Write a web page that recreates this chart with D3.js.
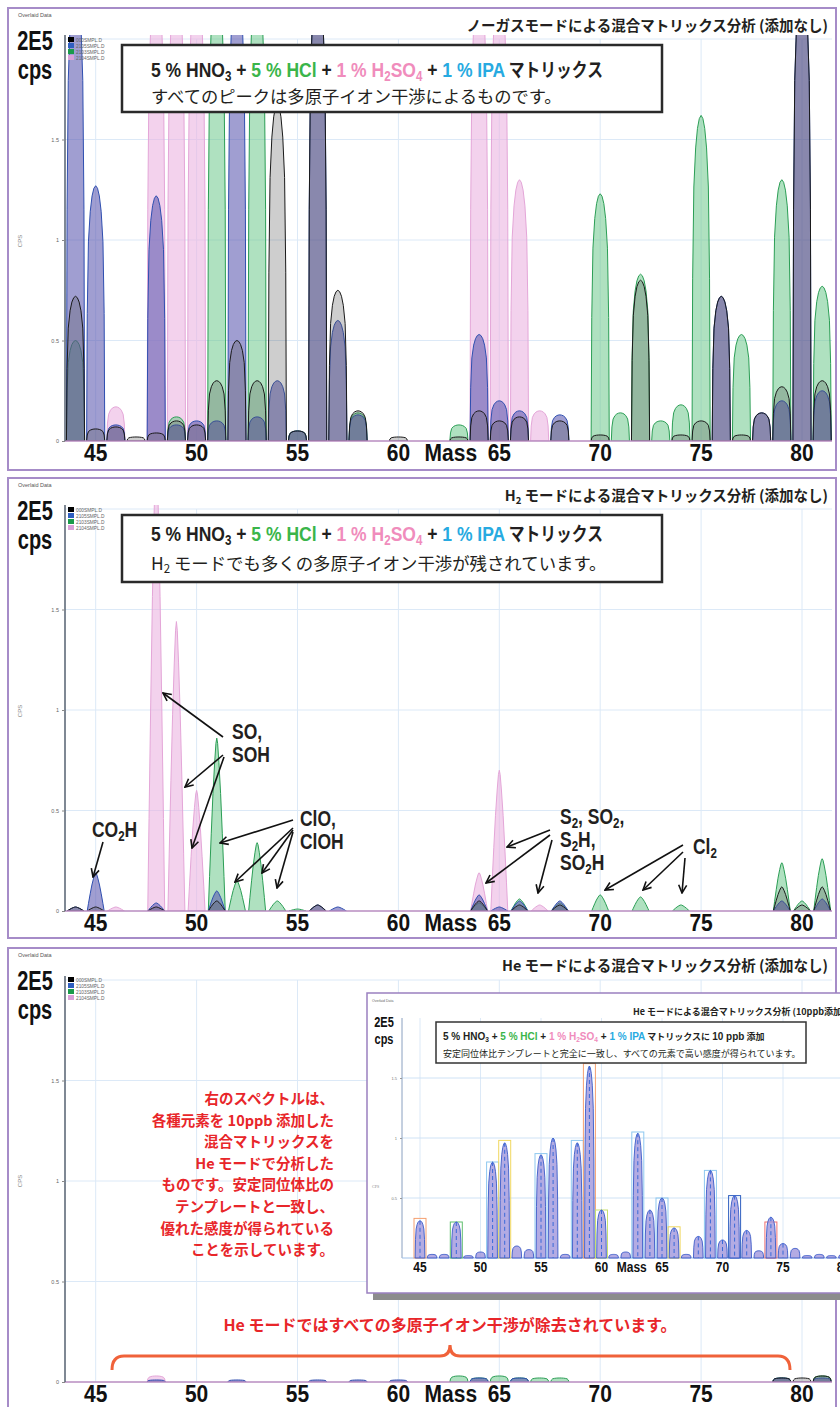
<!DOCTYPE html>
<html><head><meta charset="utf-8">
<script src="https://cdn.jsdelivr.net/npm/d3@7"></script>
<style>body{margin:0;background:#fff}svg{display:block}</style>
</head><body>
<svg id="c" width="840" height="1407"></svg>
<script>
// ---------------- DATA ----------------
const MASS_TICKS = [45, 50, 55, 60, 65, 70, 75, 80];
const Y_TICKS = [0, 0.5, 1, 1.5];
const LEGEND = ["000SMPL.D", "2105SMPL.D", "2103SMPL.D", "2104SMPL.D"];

// Panel 1: no-gas mode  [mass, intensity (x1E5 cps)]
const p1Black = [[44,0.72],[45,0.06],[46,0.07],[47,0.02],[48,0.04],[49,0.1],[50,0.08],[51,0.3],[52,0.5],[53,0.3],[54,1.68],[55,0.05],[56,2.3],[57,0.75],[58,0.15],[60,0.02],[63,0.02],[64,0.15],[65,0.1],[66,0.12],[68,0.1],[70,0.03],[72,0.8],[74,0.03],[75,0.1],[76,0.72],[77,0.03],[78,0.14],[79,0.27],[80,2.3],[81,0.3]];
const p1Blue  = [[44,2.3],[45,1.27],[46,0.08],[48,1.22],[49,0.08],[50,0.1],[51,0.1],[52,2.3],[53,0.12],[54,0.3],[55,0.05],[56,2.3],[57,0.6],[58,0.13],[64,0.53],[65,0.2],[66,0.15],[68,0.13],[76,0.72],[78,0.14],[79,0.2],[80,2.3],[81,0.25]];
const p1Green = [[44,0.5],[49,0.12],[51,2.3],[53,2.3],[55,0.05],[58,0.14],[63,0.08],[70,1.23],[71,0.14],[72,0.83],[73,0.1],[74,0.18],[75,1.62],[77,0.53],[79,1.3],[81,0.77]];
const p1Pink  = [[46,0.17],[48,2.3],[49,2.3],[50,2.3],[64,2.3],[65,2.3],[66,1.3],[67,0.15]];

// Panel 2: H2 mode
const p2Black = [[44,0.02],[45,0.02],[48,0.02],[51,0.05],[56,0.03],[64,0.05],[66,0.03],[68,0.03],[79,0.12],[80,0.03],[81,0.12]];
const p2Blue  = [[44,0.02],[45,0.19],[48,0.04],[51,0.1],[56,0.03],[57,0.02],[64,0.08],[65,0.02],[66,0.05],[68,0.05],[79,0.05],[81,0.06]];
const p2Green = [[51,0.86],[52,0.15],[53,0.34],[54,0.05],[55,0.01],[64,0.04],[66,0.06],[68,0.04],[70,0.08],[72,0.07],[74,0.03],[79,0.24],[80,0.05],[81,0.26]];
const p2Pink  = [[46,0.02],[48,2.3],[49,1.44],[50,0.6],[64,0.19],[65,0.7],[66,0.02],[67,0.03]];

// Panel 3: He mode (no spike)
const p3Black = [[79,0.02],[80,0.02],[81,0.03]];
const p3Blue  = [[48,0.01],[52,0.01],[56,0.01],[58,0.01],[60,0.01],[64,0.02],[66,0.02],[79,0.02],[81,0.02]];
const p3Green = [[63,0.03],[64,0.02],[65,0.03],[66,0.02],[67,0.02],[68,0.02],[79,0.02],[81,0.03]];
const p3Pink  = [[48,0.03],[64,0.01]];

// Inset: He mode, 10 ppb spike
const heSpike = [[45,0.31],[46,0.03],[47,0.03],[48,0.3],[49,0.02],[50,0.05],[51,0.8],[52,0.96],[53,0.1],[54,0.07],[55,0.86],[56,1.0],[57,0.03],[58,0.96],[59,1.6],[60,0.4],[61,0.03],[62,0.05],[63,1.04],[64,0.4],[65,0.5],[66,0.25],[67,0.03],[68,0.18],[69,0.73],[70,0.15],[71,0.52],[72,0.23],[73,0.06],[74,0.34],[75,0.12],[76,0.08],[77,0.02],[78,0.03],[79,0.02],[80,0.03]];
const heTemplate = [[45,0.33],[48,0.3],[51,0.8],[52,0.98],[55,0.87],[58,0.98],[59,1.62],[60,0.4],[63,1.05],[65,0.5],[66,0.26],[69,0.73],[71,0.52],[74,0.3]];

// ---------------- STYLE ----------------
const FN = "'Liberation Sans Narrow','Arial Narrow',sans-serif";
const FJ = "'Noto Sans CJK JP',sans-serif";
const C_DARK = "#231f20", C_GREEN = "#3ab54a", C_PINK = "#f08cbc", C_CYAN = "#27aae1", C_RED = "#e8262a";
const STYLE = {
  black: {stroke: "#1a1a1a", fill: "rgba(80,80,80,0.28)"},
  blue:  {stroke: "#2f4fb0", fill: "rgba(92,88,175,0.58)"},
  green: {stroke: "#2b9e55", fill: "rgba(110,200,140,0.55)"},
  pink:  {stroke: "#e4a6d8", fill: "rgba(235,180,225,0.6)"}
};
const LEG_COL = ["#000000", "#2f5fc0", "#1a9a4a", "#d9a0d8"];
const TMPL_COL = ["#f5a070","#5fbf6f","#8ec8f0","#f0d860","#8ec8f0","#8ec8f0","#f5a070","#c8e070","#8ec8f0","#8ec8f0","#f0d860","#8ec8f0","#3060c0","#f07070"];
const PROF_ROUND = [[-1,0],[-0.93,0.5],[-0.8,0.78],[-0.6,0.9],[-0.4,0.96],[-0.2,0.99],[0,1],[0.2,0.99],[0.4,0.96],[0.6,0.9],[0.8,0.78],[0.93,0.5],[1,0]];
const PROF_SHARP = [[-1,0],[-0.85,0.2],[-0.65,0.45],[-0.45,0.68],[-0.25,0.86],[-0.1,0.97],[0,1],[0.1,0.97],[0.25,0.86],[0.45,0.68],[0.65,0.45],[0.85,0.2],[1,0]];

const svg = d3.select("#c");
const defs = svg.append("defs");
defs.append("marker").attr("id","arr").attr("viewBox","0 0 10 10").attr("refX",9).attr("refY",5)
  .attr("markerWidth",10).attr("markerHeight",10).attr("markerUnits","userSpaceOnUse").attr("orient","auto")
  .append("path").attr("d","M1,1 L9,5 L1,9").attr("fill","none").attr("stroke","#111").attr("stroke-width",1.6);

function cond(g, x, y, txt, size, anchor, stretch, color) {
  return g.append("text").attr("transform", `translate(${x},${y}) scale(1,${stretch||1.15})`)
    .attr("font-family", FN).attr("font-weight", 700).attr("font-size", size)
    .attr("text-anchor", anchor || "middle").attr("fill", color || "#111").text(txt);
}
function rich(g, x, y, parts, o) {
  const t = g.append("text").attr("text-anchor", o.anchor || "start").attr("font-weight", o.weight || 700);
  if (o.sx || o.sy) t.attr("x", 0).attr("y", 0).attr("transform", `translate(${x},${y}) scale(${o.sx || 1},${o.sy || 1})`);
  else t.attr("x", x).attr("y", y);
  let shift = 0;
  parts.forEach(p => {
    const s = t.append("tspan").text(p.t).attr("fill", p.c || o.color || C_DARK)
      .attr("font-family", p.j ? FJ : (o.font || FN))
      .attr("font-size", p.sub ? o.size * 0.66 : (p.size || o.size));
    if (p.w) s.attr("font-weight", p.w);
    const want = p.sub ? o.size * 0.18 : 0;
    if (want !== shift) { s.attr("dy", want - shift); shift = want; }
  });
  return t;
}
function peakPath(x, y, m, h, hw, prof) {
  return d3.line()(prof.map(([t, f]) => [x(m + t * hw), y(h * f)])) + "Z";
}

const xMain = d3.scaleLinear().domain([45, 80]).range([95.7, 802]);
const PL = 65, PR = 832;

function drawPanel(cfg, idx) {
  const g = svg.append("g");
  const top = cfg.top, base = cfg.base;
  const y = d3.scaleLinear().domain([0, 2]).range([base, base - 402]);
  g.append("rect").attr("x", 8).attr("y", top).attr("width", 828).attr("height", cfg.h)
    .attr("fill", "#fff").attr("stroke", "#a68cc8").attr("stroke-width", 2);
  g.append("text").attr("x", 18).attr("y", top + 9).attr("font-family", "Liberation Sans").attr("font-size", 5.5)
    .attr("fill", "#555").text("Overlaid Data");
  g.append("g").selectAll("line").data(MASS_TICKS).join("line")
    .attr("x1", d => xMain(d)).attr("x2", d => xMain(d)).attr("y1", y(2)).attr("y2", base)
    .attr("stroke", "#dce9f7").attr("stroke-width", 1);
  g.append("g").selectAll("line").data([0.5, 1, 1.5, 2]).join("line")
    .attr("x1", PL).attr("x2", PR).attr("y1", d => y(d)).attr("y2", d => y(d))
    .attr("stroke", "#dce9f7").attr("stroke-width", 1);
  const cid = "clip" + idx;
  defs.append("clipPath").attr("id", cid).append("rect").attr("x", PL).attr("y", y(2) - 4)
    .attr("width", PR - PL).attr("height", base - y(2) + 4);
  const pg = g.append("g").attr("clip-path", `url(#${cid})`);
  ["pink", "green", "blue", "black"].forEach(s => {
    pg.append("g").selectAll("path").data(cfg.data[s]).join("path")
      .attr("d", d => peakPath(xMain, y, d[0], d[1], cfg.hw, cfg.prof))
      .attr("fill", STYLE[s].fill).attr("stroke", STYLE[s].stroke).attr("stroke-width", 1);
  });
  g.append("line").attr("x1", PL).attr("x2", PR).attr("y1", base).attr("y2", base)
    .attr("stroke", "#b88cc0").attr("stroke-width", 1.6);
  g.append("line").attr("x1", PL).attr("x2", PL).attr("y1", y(2) - 4).attr("y2", base)
    .attr("stroke", "#556070").attr("stroke-width", 1.5);
  const yAxis = d3.axisLeft(y).tickValues(Y_TICKS).tickSize(3).tickFormat(d3.format("~g"));
  const ya = g.append("g").attr("transform", `translate(${PL},0)`).call(yAxis);
  ya.select(".domain").remove();
  ya.selectAll("text").attr("font-size", 5.5).attr("fill", "#666").attr("font-family", "Liberation Sans");
  ya.selectAll("line").attr("stroke", "#888");
  g.append("text").attr("transform", `translate(22,${top + 233}) rotate(-90)`).attr("font-size", 6)
    .attr("font-family", "Liberation Sans").attr("fill", "#888").attr("text-anchor", "middle").text("CPS");
  g.append("g").selectAll("text").data(MASS_TICKS).join("text")
    .attr("transform", d => `translate(${xMain(d)},${base + 20}) scale(1,1.15)`)
    .attr("font-family", FN).attr("font-weight", 700).attr("font-size", 21).attr("text-anchor", "middle")
    .attr("fill", "#111").text(d => d);
  cond(g, (xMain(60) + xMain(65)) / 2 + 2, base + 20, "Mass", 21, "middle", 1.15);
  cond(g, 35, top + 42, "2E5", 20, "middle", 1.4);
  cond(g, 35, top + 71, "cps", 20, "middle", 1.4);
  const lg = g.append("g");
  LEGEND.forEach((l, i) => {
    lg.append("rect").attr("x", 68).attr("y", top + 29 + i * 6).attr("width", 6).attr("height", 5).attr("fill", LEG_COL[i]);
    lg.append("text").attr("x", 76).attr("y", top + 33.5 + i * 6).attr("font-size", 4.8)
      .attr("font-family", "Liberation Sans").attr("fill", "#666").text(l);
  });
  rich(g, 828, top + 23, cfg.title, {size: 14.5, font: FJ, anchor: "end"});
  return {g, y};
}

const matrixLine = [
  {t: "5 % HNO"}, {t: "3", sub: 1}, {t: " + "}, {t: "5 % HCl", c: C_GREEN}, {t: " + "},
  {t: "1 % H", c: C_PINK}, {t: "2", sub: 1, c: C_PINK}, {t: "SO", c: C_PINK}, {t: "4", sub: 1, c: C_PINK},
  {t: " + "}, {t: "1 % IPA", c: C_CYAN}, {t: " マトリックス", j: 1, size: 18}
];

// ---------- Panel 1 ----------
const P1 = drawPanel({top: 8, h: 462, base: 441, hw: 0.45, prof: PROF_ROUND,
  data: {black: p1Black, blue: p1Blue, green: p1Green, pink: p1Pink},
  title: [{t: "ノーガスモードによる混合マトリックス分析 (添加なし)", j: 1}]}, 1);
P1.g.append("rect").attr("x", 122).attr("y", 45).attr("width", 540).attr("height", 67)
  .attr("fill", "#fff").attr("stroke", "#2a2a2a").attr("stroke-width", 2.5);
rich(P1.g, 151, 77, matrixLine, {size: 20, sx: 0.876, sy: 1.05});
P1.g.append("text").attr("x", 151).attr("y", 103).attr("font-family", FJ).attr("font-size", 17.3)
  .attr("fill", C_DARK).text("すべてのピークは多原子イオン干渉によるものです。");

// ---------- Panel 2 ----------
const P2 = drawPanel({top: 478, h: 460, base: 911, hw: 0.42, prof: PROF_SHARP,
  data: {black: p2Black, blue: p2Blue, green: p2Green, pink: p2Pink},
  title: [{t: "H", j: 0, w: 700}, {t: "2", sub: 1}, {t: " モードによる混合マトリックス分析 (添加なし)", j: 1}]}, 2);
P2.g.append("rect").attr("x", 122).attr("y", 515).attr("width", 540).attr("height", 67)
  .attr("fill", "#fff").attr("stroke", "#2a2a2a").attr("stroke-width", 2.5);
rich(P2.g, 151, 541, matrixLine, {size: 20, sx: 0.876, sy: 1.05});
rich(P2.g, 151, 570, [{t: "H"}, {t: "2", sub: 1}, {t: " モードでも多くの多原子イオン干渉が残されています。"}],
  {size: 17.4, font: FJ, weight: 400});

// annotations (panel 2)
const ann = P2.g.append("g");
const arrows2 = [
  [223,737,163,693],[223,755,185,787],[224,757,192,848],
  [293,820,220,843],[293,828,235,882],[293,830,262,873],[293,832,277,888],
  [103,842,93,877],
  [550,830,507,847],[550,835,486,883],[552,840,538,893],
  [683,845,605,890],[683,852,643,890],[685,858,682,893]
];
ann.selectAll("line").data(arrows2).join("line")
  .attr("x1", d => d[0]).attr("y1", d => d[1]).attr("x2", d => d[2]).attr("y2", d => d[3])
  .attr("stroke", "#111").attr("stroke-width", 1.6).attr("marker-end", "url(#arr)");
function annText(x, y, parts) { rich(ann, x, y, parts, {size: 19, sx: 0.92, sy: 1.2}); }
annText(232, 739, [{t: "SO,"}]);
annText(232, 762, [{t: "SOH"}]);
annText(300, 826, [{t: "ClO,"}]);
annText(300, 849, [{t: "ClOH"}]);
annText(92, 837, [{t: "CO"}, {t: "2", sub: 1}, {t: "H"}]);
annText(560, 824, [{t: "S"}, {t: "2", sub: 1}, {t: ", SO"}, {t: "2", sub: 1}, {t: ","}]);
annText(560, 847, [{t: "S"}, {t: "2", sub: 1}, {t: "H,"}]);
annText(560, 870, [{t: "SO"}, {t: "2", sub: 1}, {t: "H"}]);
annText(693, 854, [{t: "Cl"}, {t: "2", sub: 1}]);

// ---------- Panel 3 ----------
const P3 = drawPanel({top: 948, h: 470, base: 1382, hw: 0.45, prof: PROF_ROUND,
  data: {black: p3Black, blue: p3Blue, green: p3Green, pink: p3Pink},
  title: [{t: "He モードによる混合マトリックス分析 (添加なし)", j: 1}]}, 3);

const redLines = ["右のスペクトルは、", "各種元素を 10ppb 添加した", "混合マトリックスを", "He モードで分析した",
  "ものです。安定同位体比の", "テンプレートと一致し、", "優れた感度が得られている", "ことを示しています。"];
P3.g.append("g").selectAll("text").data(redLines).join("text")
  .attr("x", 334).attr("y", (d, i) => 1104 + i * 21.6).attr("text-anchor", "end")
  .attr("font-family", FJ).attr("font-weight", 700).attr("font-size", 14.5).attr("fill", C_RED).text(d => d);
P3.g.append("text").attr("x", 450).attr("y", 1331).attr("text-anchor", "middle")
  .attr("font-family", FJ).attr("font-weight", 700).attr("font-size", 16).attr("fill", C_RED)
  .text("He モードではすべての多原子イオン干渉が除去されています。");
P3.g.append("path")
  .attr("d", "M112,1370 Q112,1356 124,1356 L440,1356 Q450,1356 450,1345 Q450,1356 460,1356 L778,1356 Q790,1356 790,1370")
  .attr("fill", "none").attr("stroke", "#f0623a").attr("stroke-width", 3);

// ---------- Inset ----------
const ig = svg.append("g");
ig.append("rect").attr("x", 373).attr("y", 999).attr("width", 480).attr("height", 301).attr("fill", "#8c8c8c");
ig.append("rect").attr("x", 367).attr("y", 993).attr("width", 480).attr("height", 300)
  .attr("fill", "#fff").attr("stroke", "#9a80c0").attr("stroke-width", 1.5);
const xi = d3.scaleLinear().domain([45, 75]).range([420, 783]);
const yi = d3.scaleLinear().domain([0, 2]).range([1258, 1018]);
ig.append("text").attr("x", 372).attr("y", 1002).attr("font-size", 3.5).attr("font-family", "Liberation Sans").attr("fill", "#666").text("Overlaid Data");
ig.append("g").selectAll("line").data(MASS_TICKS).join("line")
  .attr("x1", d => xi(d)).attr("x2", d => xi(d)).attr("y1", yi(2)).attr("y2", yi(0))
  .attr("stroke", "#dce9f7");
ig.append("g").selectAll("line").data([0.5, 1, 1.5]).join("line")
  .attr("x1", 402).attr("x2", 840).attr("y1", d => yi(d)).attr("y2", d => yi(d)).attr("stroke", "#cfe2f5");
ig.append("line").attr("x1", 402).attr("x2", 402).attr("y1", yi(2)).attr("y2", yi(0)).attr("stroke", "#8aa0c0");
ig.append("line").attr("x1", 402).attr("x2", 840).attr("y1", yi(0)).attr("y2", yi(0)).attr("stroke", "#9fc0e8");
const iax = ig.append("g").attr("transform", "translate(402,0)").call(d3.axisLeft(yi).tickValues([0.5, 1, 1.5]).tickSize(2).tickFormat(d3.format("~g")));
iax.select(".domain").remove();
iax.selectAll("text").attr("font-size", 4).attr("fill", "#777");
iax.selectAll("line").attr("stroke", "#999");
ig.append("text").attr("x", 372).attr("y", 1188).attr("font-size", 4).attr("fill", "#888").text("CPS");
ig.append("g").selectAll("rect").data(heTemplate).join("rect")
  .attr("x", d => xi(d[0]) - 6).attr("y", d => yi(d[1])).attr("width", 12).attr("height", d => yi(0) - yi(d[1]))
  .attr("fill", "none").attr("stroke", (d, i) => TMPL_COL[i % TMPL_COL.length]).attr("stroke-width", 1);
ig.append("g").selectAll("path").data(heSpike).join("path")
  .attr("d", d => peakPath(xi, yi, d[0], d[1], 0.4, PROF_ROUND))
  .attr("fill", "rgba(160,150,220,0.8)").attr("stroke", "#3a5ac8").attr("stroke-width", 0.9);
ig.append("g").selectAll("line").data(heSpike.filter(d => d[1] > 0.1)).join("line")
  .attr("x1", d => xi(d[0])).attr("x2", d => xi(d[0])).attr("y1", d => yi(d[1])).attr("y2", yi(0))
  .attr("stroke", "#3a6ad8").attr("stroke-width", 1).attr("stroke-dasharray", "4,3");
ig.append("g").selectAll("text").data(MASS_TICKS).join("text")
  .attr("transform", d => `translate(${xi(d)},1272) scale(1,1.15)`)
  .attr("font-family", FN).attr("font-weight", 700).attr("font-size", 12).attr("text-anchor", "middle").attr("fill", "#111").text(d => d);
cond(ig, (xi(60) + xi(65)) / 2, 1272, "Mass", 12, "middle", 1.15);
cond(ig, 384, 1027, "2E5", 11, "middle", 1.3);
cond(ig, 384, 1044, "cps", 11, "middle", 1.3);
rich(ig, 633, 1015, [{t: "He モードによる混合マトリックス分析 (10ppb添加)", j: 1}], {size: 9, font: FJ, anchor: "start"});
ig.append("rect").attr("x", 436).attr("y", 1022).attr("width", 370).attr("height", 41)
  .attr("fill", "#fff").attr("stroke", "#333").attr("stroke-width", 1.5);
rich(ig, 443, 1040, [
  {t: "5 % HNO"}, {t: "3", sub: 1}, {t: " + "}, {t: "5 % HCl", c: C_GREEN}, {t: " + "},
  {t: "1 % H", c: C_PINK}, {t: "2", sub: 1, c: C_PINK}, {t: "SO", c: C_PINK}, {t: "4", sub: 1, c: C_PINK},
  {t: " + "}, {t: "1 % IPA", c: C_CYAN}, {t: " マトリックスに ", j: 1, size: 9}, {t: "10 ppb"}, {t: " 添加", j: 1, size: 9}
], {size: 10});
ig.append("text").attr("x", 443).attr("y", 1057).attr("font-family", FJ).attr("font-size", 9).attr("fill", C_DARK)
  .text("安定同位体比テンプレートと完全に一致し、すべての元素で高い感度が得られています。");
</script>
</body></html>
